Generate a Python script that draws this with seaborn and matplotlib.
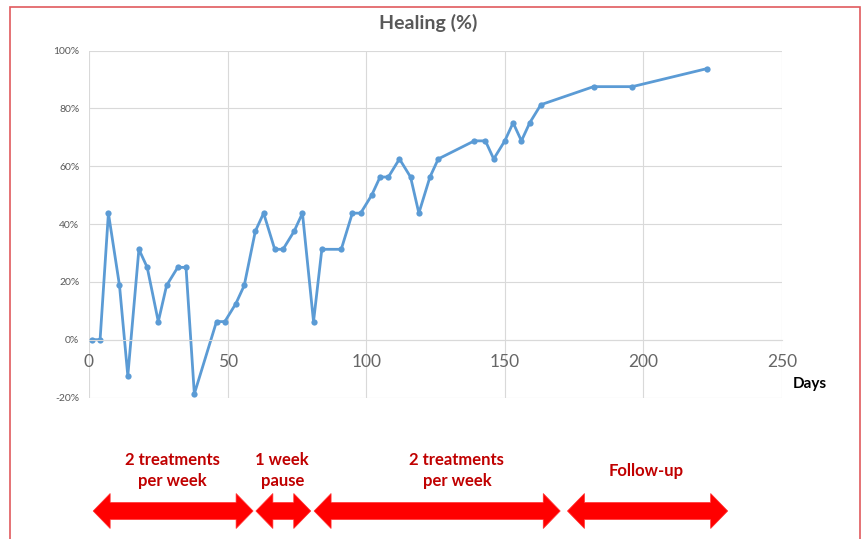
import numpy as np
import matplotlib
matplotlib.use("Agg")
import matplotlib.pyplot as plt
from matplotlib.patches import Polygon, Rectangle
from matplotlib.ticker import FuncFormatter, MultipleLocator
import seaborn as sns

# données
days = [1, 4, 7, 11, 14, 18, 21, 25, 28, 32, 35, 38, 46, 49, 53, 56, 60, 63, 67, 70,
        74, 77, 81, 84, 91, 95, 98, 102, 105, 108, 112, 116, 119, 123, 126, 139, 143,
        146, 150, 153, 156, 159, 163, 182, 196, 223]
healing = [0, 0, 43.75, 18.75, -12.5, 31.25, 25, 6.25, 18.75, 25, 25, -18.75, 6.25,
           6.25, 12.5, 18.75, 37.5, 43.75, 31.25, 31.25, 37.5, 43.75, 6.25, 31.25,
           31.25, 43.75, 43.75, 50, 56.25, 56.25, 62.5, 56.25, 43.75, 56.25, 62.5,
           68.75, 68.75, 62.5, 68.75, 75, 68.75, 75, 81.25, 87.5, 87.5, 93.75]

# phases du traitement (en jours)
phase_labels = ["2 treatments\nper week", "1 week\npause", "2 treatments\nper week", "Follow-up"]
phase_start = [1.5, 60.2, 81.2, 172.6]
phase_end = [59.2, 80.0, 170.0, 230.4]
phase_label_day = [30.1, 69.7, 132.7, 201.0]

sns.set_theme(style="whitegrid")
plt.rcParams["font.family"] = ["Lato", "DejaVu Sans"]

W, H = 865, 539
fig = plt.figure(figsize=(W / 100, H / 100), dpi=100)
ax = fig.add_axes([89 / W, 1 - 397.5 / H, 693 / W, 347 / H])

sns.lineplot(x=days, y=healing, ax=ax, color="#5B9BD5", linewidth=2.0,
             marker="o", markersize=4.5, markeredgewidth=0, markerfacecolor="#5B9BD5")

ax.set_xlim(0, 250)
ax.set_ylim(-20, 100)
ax.xaxis.set_major_locator(MultipleLocator(50))
ax.yaxis.set_major_locator(MultipleLocator(20))
ax.yaxis.set_major_formatter(FuncFormatter(lambda v, p: f"{v:.0f}%"))
ax.grid(True, color="#D9D9D9", linewidth=0.8)
ax.set_facecolor("white")

for s in ["top", "right", "left"]:
    ax.spines[s].set_visible(False)
ax.spines["bottom"].set_position(("data", 0))
ax.spines["bottom"].set_color("#D9D9D9")
ax.spines["bottom"].set_linewidth(0.8)
ax.tick_params(axis="x", length=0, pad=10, labelsize=12.5, labelcolor="#666666")
ax.tick_params(axis="y", length=0, pad=7, labelsize=7.5, labelcolor="#595959")
ax.set_xlabel("")
ax.set_ylabel("")

fig.text(428 / W, 1 - 23 / H, "Healing (%)", ha="center", va="center",
         fontsize=14, fontweight="bold", color="#595959")
fig.text(810 / W, 1 - 384 / H, "Days", ha="center", va="center",
         fontsize=11, fontweight="bold", color="black")

# flèches doubles des phases
fig.canvas.draw()
yc = H - 511
hl, hw, sw = 17, 35, 17
for a, b, lab, xl in zip(phase_start, phase_end, phase_labels, phase_label_day):
    x0 = ax.transData.transform((a, 0))[0]
    x1 = ax.transData.transform((b, 0))[0]
    xm = ax.transData.transform((xl, 0))[0]
    pts = [(x0, yc), (x0 + hl, yc + hw / 2), (x0 + hl, yc + sw / 2), (x1 - hl, yc + sw / 2),
           (x1 - hl, yc + hw / 2), (x1, yc), (x1 - hl, yc - hw / 2), (x1 - hl, yc - sw / 2),
           (x0 + hl, yc - sw / 2), (x0 + hl, yc - hw / 2)]
    pts = [(px / W, py / H) for px, py in pts]
    fig.patches.append(Polygon(pts, closed=True, transform=fig.transFigure,
                               facecolor="#FF0000", edgecolor="#FF3030", linewidth=0.5))
    ty = 471 if "\n" not in lab else 470.5
    fig.text(xm / W, 1 - ty / H, lab, ha="center", va="center", fontsize=12,
             fontweight="bold", color="#C00000", linespacing=1.4)

# cadre rouge
fig.patches.append(Rectangle((9.5 / W, -0.05), 850 / W, 1.05 - 7 / H, transform=fig.transFigure,
                             fill=False, edgecolor="#E05A5E", linewidth=1.2))

fig.savefig("out.png", dpi=100, facecolor="white")
